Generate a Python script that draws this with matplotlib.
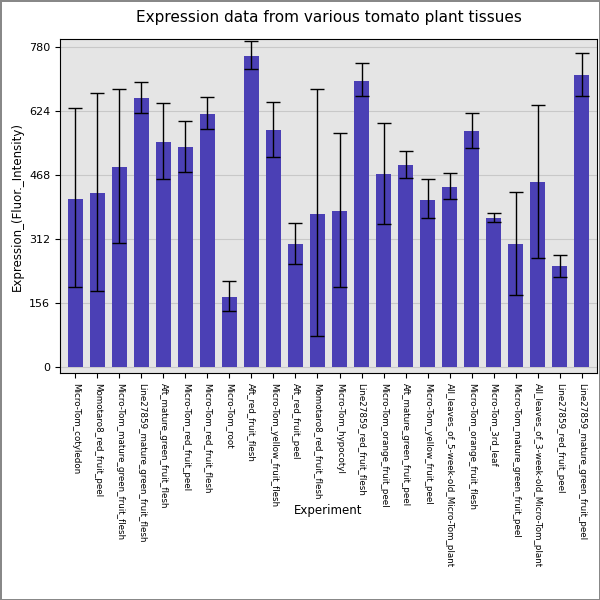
import matplotlib.pyplot as plt
import numpy as np

labels = ["Micro-Tom_cotyledon", "Momotaro8_red_fruit_peel", "Micro-Tom_mature_green_fruit_flesh",
          "Line27859_mature_green_fruit_flesh", "Aft_mature_green_fruit_flesh", "Micro-Tom_red_fruit_peel",
          "Micro-Tom_red_fruit_flesh", "Micro-Tom_root", "Aft_red_fruit_flesh", "Micro-Tom_yellow_fruit_flesh",
          "Aft_red_fruit_peel", "Momotaro8_red_fruit_flesh", "Micro-Tom_hypocotyl", "Line27859_red_fruit_flesh",
          "Micro-Tom_orange_fruit_peel", "Aft_mature_green_fruit_peel", "Micro-Tom_yellow_fruit_peel",
          "All_leaves_of_5-week-old_Micro-Tom_plant", "Micro-Tom_orange_fruit_flesh", "Micro-Tom_3rd_leaf",
          "Micro-Tom_mature_green_fruit_peel", "All_leaves_of_3-week-old_Micro-Tom_plant",
          "Line27859_red_fruit_peel", "Line27859_mature_green_fruit_peel"]
values = [409, 424, 487, 656, 548, 536, 617, 171, 758, 578, 300, 373, 380, 697, 470, 492, 407, 439, 575, 363, 300, 451, 246, 712]
err_hi = [631, 668, 678, 695, 643, 600, 658, 210, 795, 646, 351, 678, 570, 741, 595, 526, 458, 473, 619, 375, 427, 639, 273, 765]
err_lo = [195, 185, 302, 619, 458, 475, 580, 136, 726, 512, 251, 76, 195, 660, 349, 461, 363, 409, 534, 353, 175, 266, 219, 660]

vals = np.array(values)
yerr = [vals - np.array(err_lo), np.array(err_hi) - vals]

fig = plt.figure(figsize=(6, 6), dpi=100)
fig.patch.set_edgecolor('#888888')
fig.patch.set_linewidth(1)
ax = fig.add_axes([0.1, 0.378, 0.895, 0.557])
ax.set_facecolor('#e5e5e5')
x = np.arange(len(labels))
ax.bar(x, vals, width=0.7, color='#4b40b5', zorder=2)
ax.errorbar(x, vals, yerr=yerr, fmt='none', ecolor='black', capsize=5, elinewidth=1, zorder=3)
ax.set_xlim(-0.7, len(labels) - 0.3)
ax.set_ylim(-15, 800)
ticks = [0, 156, 312, 468, 624, 780]
ax.set_yticks(ticks)
ax.grid(axis='y', color='#c8c8c8', zorder=0)
ax.set_xticks(x)
ax.set_xticklabels(labels, rotation=270, fontsize=6.3)
ax.tick_params(axis='y', labelsize=8)
ax.set_xlabel("Experiment", fontsize=8.5, labelpad=4)
ax.xaxis.set_label_coords(0.5, -0.39)
ax.set_ylabel("Expression_(Fluor._Intensity)", fontsize=8.5)
ax.set_title("Expression data from various tomato plant tissues", fontsize=11, pad=12)
fig.savefig("out.png", edgecolor=fig.get_edgecolor())
